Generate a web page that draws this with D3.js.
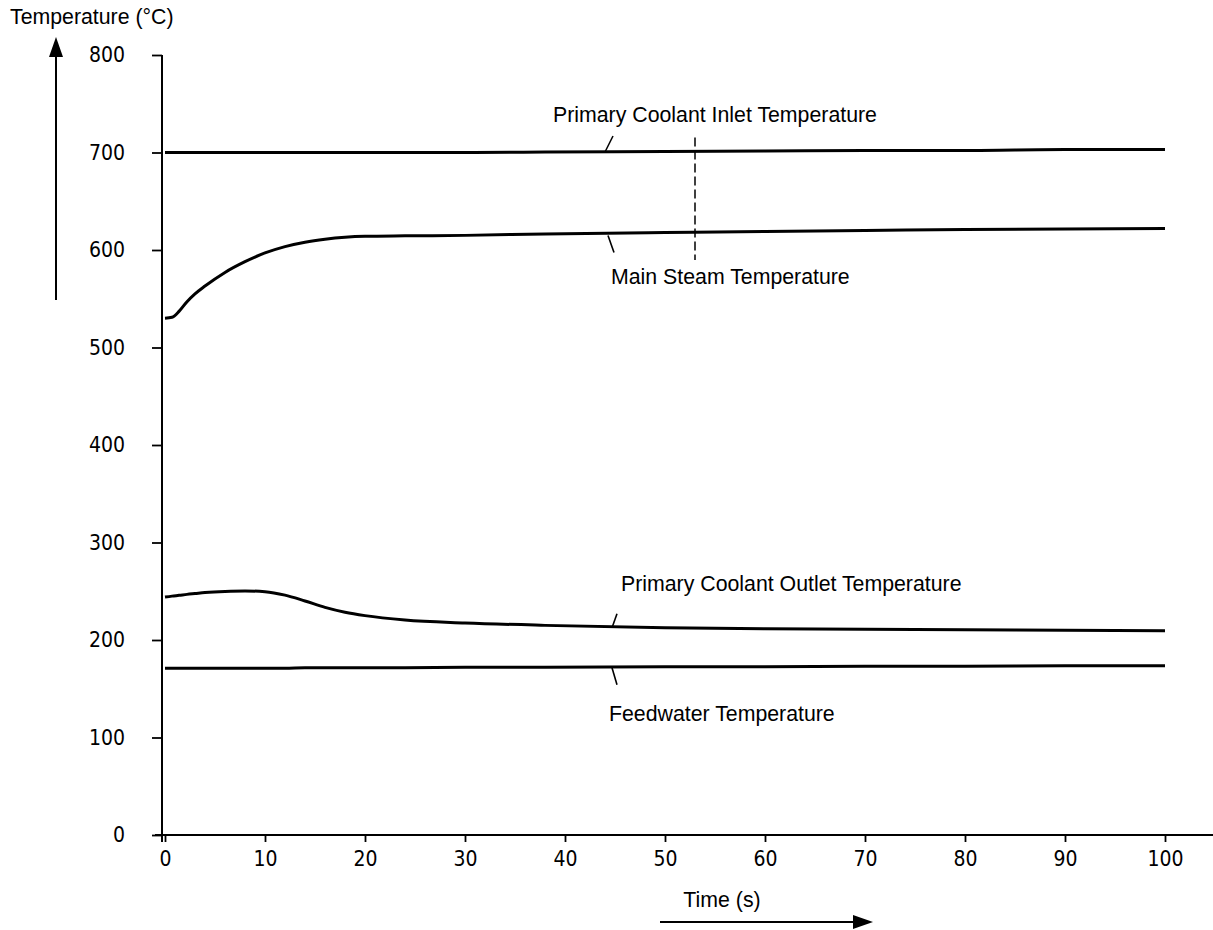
<!DOCTYPE html>
<html>
<head>
<meta charset="utf-8">
<script src="https://cdn.jsdelivr.net/npm/d3@7"></script>
<style>
  html, body { margin: 0; padding: 0; background: #fff; }
  svg { display: block; }
  .tick text { font-family: "DejaVu Sans Condensed", "DejaVu Sans", sans-serif; }
</style>
</head>
<body>
<svg id="chart" width="1213" height="930"></svg>
<script>
// ---- data ----
const time = [0, 0.7, 1.4, 2.2, 3, 4, 6, 8, 10, 12, 14, 16, 18, 20, 24, 30, 38, 50, 60, 70, 80, 90, 100];
const inletTemp  = [700, 700, 700, 700, 700, 700, 700, 700, 700, 700, 700, 700, 700, 700, 700, 700, 700.5, 701, 701.5, 702, 702, 703, 703];
const steamTemp  = [530, 531, 537, 547, 555, 563, 577, 588, 597, 603.5, 608, 611, 613, 614, 614.5, 615, 616.5, 618, 619, 620, 621, 621.5, 622];
const outletTemp = [244, 245, 245.8, 246.8, 247.6, 248.6, 249.8, 250.3, 249.5, 246, 240, 233.5, 228.5, 225, 220.5, 217.5, 215, 212.5, 211.5, 211, 210.5, 210, 209.5];
const feedTemp   = [171, 171, 171, 171, 171, 171, 171, 171, 171, 171, 171.5, 171.5, 171.5, 171.5, 171.5, 172, 172, 172.5, 172.5, 173, 173, 173.5, 173.5];
const seriesNames = ["Primary Coolant Inlet Temperature", "Main Steam Temperature", "Primary Coolant Outlet Temperature", "Feedwater Temperature"];
const xTicks = [0, 10, 20, 30, 40, 50, 60, 70, 80, 90, 100];
const yTicks = [0, 100, 200, 300, 400, 500, 600, 700, 800];
const xTitle = "Time (s)";
const yTitle = "Temperature (°C)";

// ---- scales ----
const svg = d3.select("#chart");
const x = d3.scaleLinear().domain([0, 100]).range([165, 1165]);
const y = d3.scaleLinear().domain([0, 800]).range([835, 55]);

// ---- axes ----
const xAxis = d3.axisBottom(x).tickValues(xTicks).tickSize(7).tickPadding(9).tickFormat(d3.format("d"));
const gx = svg.append("g").attr("transform", `translate(0,${y(0)})`).call(xAxis);
gx.select(".domain").remove();
gx.append("line").attr("x1", x(0) - 10).attr("x2", 1213).attr("y1", 0).attr("y2", 0)
  .attr("stroke", "#000").attr("stroke-width", 2);
gx.selectAll(".tick line").attr("stroke", "#000").attr("stroke-width", 1.8);
gx.selectAll(".tick text").attr("font-size", 21).attr("fill", "#000");

const yAxisX = 162;
const yAxis = d3.axisLeft(y).tickValues(yTicks).tickSize(10).tickPadding(27).tickFormat(d3.format("d"));
const gy = svg.append("g").attr("transform", `translate(${yAxisX},0)`).call(yAxis);
gy.select(".domain").remove();
gy.append("line").attr("x1", 0).attr("x2", 0).attr("y1", y(800)).attr("y2", y(0) + 7)
  .attr("stroke", "#000").attr("stroke-width", 2);
gy.selectAll(".tick line").attr("stroke", "#000").attr("stroke-width", 1.8);
gy.selectAll(".tick text").attr("font-size", 21).attr("fill", "#000");

// ---- series ----
const line = d3.line().x(d => x(d[0])).y(d => y(d[1])).curve(d3.curveMonotoneX);
[inletTemp, steamTemp, outletTemp, feedTemp].forEach(vals => {
  svg.append("path")
    .datum(time.map((t, i) => [t, vals[i]]))
    .attr("d", line)
    .attr("fill", "none")
    .attr("stroke", "#000")
    .attr("stroke-width", 3)
    .attr("stroke-linejoin", "round");
});

// ---- dashed marker ----
svg.append("line")
  .attr("x1", x(53)).attr("x2", x(53))
  .attr("y1", y(700) - 15).attr("y2", y(600) + 10)
  .attr("stroke", "#000").attr("stroke-width", 1.5).attr("stroke-dasharray", "9,4");

// ---- annotations ----
const labelFont = "'Liberation Sans', Arial, sans-serif";
const ann = [
  { name: seriesNames[0], tx: x(38.8), ty: 122, l: [[x(44), y(700.5)], [x(44.8), y(700.5) - 16]] },
  { name: seriesNames[1], tx: x(44.6), ty: 284, l: [[x(44.3), y(617) + 2], [x(44.9), y(617) + 19]] },
  { name: seriesNames[2], tx: x(45.6), ty: 591, l: [[x(44.7), y(212.5)], [x(45.2), y(212.5) - 14]] },
  { name: seriesNames[3], tx: x(44.4), ty: 721, l: [[x(44.7), y(172.5) + 1], [x(45.2), y(172.5) + 18]] }
];
ann.forEach(a => {
  svg.append("text").attr("x", a.tx).attr("y", a.ty)
    .attr("font-family", labelFont).attr("font-size", 21.3).attr("fill", "#000").text(a.name);
  svg.append("line").attr("x1", a.l[0][0]).attr("y1", a.l[0][1]).attr("x2", a.l[1][0]).attr("y2", a.l[1][1])
    .attr("stroke", "#000").attr("stroke-width", 1.6);
});

// ---- axis titles with arrows ----
svg.append("text").attr("x", 10).attr("y", 24)
  .attr("font-family", labelFont).attr("font-size", 21.3).attr("fill", "#000").text(yTitle);
svg.append("line").attr("x1", 56).attr("x2", 56).attr("y1", 300).attr("y2", 52)
  .attr("stroke", "#000").attr("stroke-width", 2);
svg.append("path").attr("d", "M56,37 L49,57 L63,57 Z").attr("fill", "#000");

svg.append("text").attr("x", 722).attr("y", 907).attr("text-anchor", "middle")
  .attr("font-family", labelFont).attr("font-size", 21.3).attr("fill", "#000").text(xTitle);
svg.append("line").attr("x1", 660).attr("x2", 858).attr("y1", 922).attr("y2", 922)
  .attr("stroke", "#000").attr("stroke-width", 2);
svg.append("path").attr("d", "M873,922 L853,915 L853,929 Z").attr("fill", "#000");
</script>
</body>
</html>
